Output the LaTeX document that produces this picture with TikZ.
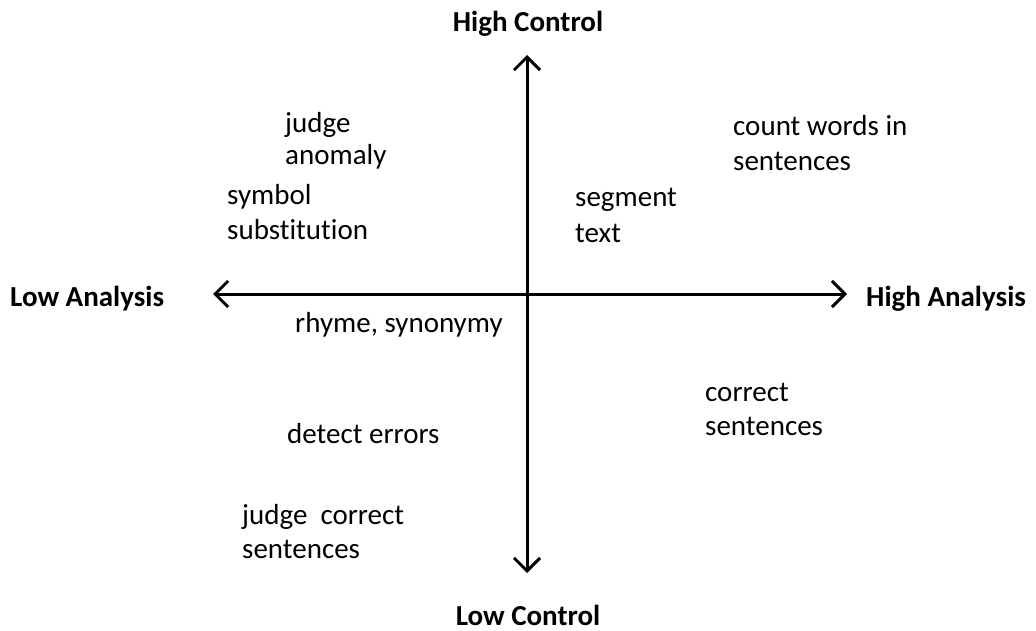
\documentclass[tikz,border=0pt]{standalone}
\usepackage{fontspec}
\setmainfont{Carlito}[Ligatures=NoCommon]
\usetikzlibrary{arrows.meta}
\begin{document}
\begin{tikzpicture}[x=1pt,y=-1pt,
  lbl/.style={anchor=base west,inner sep=0pt,font=\fontsize{29}{34}\selectfont},
  axlbl/.style={inner sep=0pt,font=\fontsize{29}{34}\selectfont\bfseries},
  axis/.style={line width=3pt,{Straight Barb[length=13pt,width=26pt,line width=3pt]}-{Straight Barb[length=13pt,width=26pt,line width=3pt]}}]
\useasboundingbox (0,0) rectangle (1036,631);
\coordinate (L) at (213,294);
\coordinate (R) at (847,294);
\coordinate (T) at (527,55);
\coordinate (B) at (527,573);
\draw[axis] (L) -- (R);
\draw[axis] (T) -- (B);
\node[axlbl,anchor=base] (hc) at (528,32) {High Control};
\node[axlbl,anchor=base] (lc) at (528,625) {Low Control};
\node[axlbl,anchor=base west] (la) at (10,306) {Low Analysis};
\node[axlbl,anchor=base west] (ha) at (866,306) {High Analysis};
\node[lbl] (j1) at (285,133) {judge};
\node[lbl] (j2) at (285,165) {anomaly};
\node[lbl] (s1) at (227,205) {symbol};
\node[lbl] (s2) at (227,240) {substitution};
\node[lbl] (c1) at (733,136) {count words in};
\node[lbl] (c2) at (733,171) {sentences};
\node[lbl] (g1) at (575,207) {segment};
\node[lbl] (g2) at (575,243) {text};
\node[lbl] (rs) at (295,332) {rhyme, synonymy};
\node[lbl] (cs1) at (705,401) {correct};
\node[lbl] (cs2) at (705,435) {sentences};
\node[lbl] (de) at (287,443) {detect errors};
\node[lbl] (jc1) at (242,524) {judge\ \ correct};
\node[lbl] (jc2) at (242,558) {sentences};
\end{tikzpicture}
\end{document}
